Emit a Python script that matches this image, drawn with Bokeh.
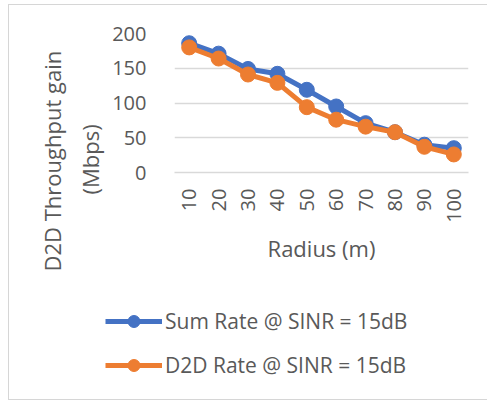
from math import pi
from bokeh.plotting import figure
from bokeh.models import Legend, LegendItem, FactorRange, Title
from bokeh.layouts import column, row
from bokeh.embed import file_html
from bokeh.resources import INLINE

radius = ["10", "20", "30", "40", "50", "60", "70", "80", "90", "100"]
sum_rate = [186, 171, 149, 142, 119, 95, 71, 58, 40, 35]
d2d_rate = [180, 164, 141, 129, 94, 76, 66, 58, 37, 26]
y_ticks = [0, 50, 100, 150, 200]
series_names = ["Sum Rate @ SINR = 15dB", "D2D Rate @ SINR = 15dB"]

FONT = "Open Sans"
GREY = "#595959"
BLUE = "#4472C4"
ORANGE = "#ED7D31"

p = figure(width=478, height=285, output_backend="svg", toolbar_location=None,
           x_range=FactorRange(*radius, range_padding=0), y_range=(0, 200),
           min_border_left=165, min_border_right=19, min_border_top=28, min_border_bottom=118)
p.outline_line_color = None
p.background_fill_color = "white"
p.border_fill_color = "white"

p.xgrid.grid_line_color = None
p.ygrid.grid_line_color = "#D9D9D9"
p.ygrid.grid_line_width = 1.3
p.yaxis.ticker = y_ticks

for ax in (p.xaxis, p.yaxis):
    ax.axis_line_color = None
    ax.major_tick_line_color = None
    ax.minor_tick_line_color = None
    ax.major_label_text_font = FONT
    ax.major_label_text_color = GREY
    ax.major_label_text_font_size = "20px"

p.xaxis.axis_line_color = "#D9D9D9"
p.xaxis.axis_line_width = 1.3
p.yaxis.major_label_standoff = 22
p.xaxis.major_label_orientation = pi / 2
p.xaxis.major_label_standoff = 10
p.xaxis.axis_label = "Radius (m)"
p.xaxis.axis_label_text_font = FONT
p.xaxis.axis_label_text_font_style = "normal"
p.xaxis.axis_label_text_color = GREY
p.xaxis.axis_label_text_font_size = "22px"
p.xaxis.axis_label_standoff = 7

p.line(radius, sum_rate, line_color=BLUE, line_width=5)
p.scatter(radius, sum_rate, size=15, fill_color=BLUE, line_color=BLUE)
p.line(radius, d2d_rate, line_color=ORANGE, line_width=5)
p.scatter(radius, d2d_rate, size=15, fill_color=ORANGE, line_color=ORANGE)

for txt, so, off in (("(Mbps)", 9, -22), ("D2D Throughput gain", 4, -99)):
    p.add_layout(Title(text=txt, align="left", offset=off, standoff=so,
                       text_font=FONT, text_font_size="22px", text_color=GREY,
                       text_font_style="normal"), "left")

# legend panel: series drawn out of view, only their legend glyphs show
p2 = figure(width=478, height=109, output_backend="svg", toolbar_location=None,
            x_range=FactorRange(*radius), y_range=(1000, 2000), min_border=0,
            x_axis_location=None, y_axis_location=None)
p2.grid.visible = False
p2.outline_line_color = None
p2.background_fill_color = "white"
p2.border_fill_color = "white"

items = []
for name, col, vals in zip(series_names, (BLUE, ORANGE), (sum_rate, d2d_rate)):
    lr = p2.line(x=radius, y=vals, line_color=col, line_width=5)
    sr = p2.scatter(x=radius, y=vals, size=15, fill_color=col, line_color=col)
    items.append(LegendItem(label=name, renderers=[lr, sr]))

legend = Legend(items=items, location=(96, 19), orientation="vertical",
                glyph_width=57, glyph_height=30, spacing=14, padding=0, margin=0,
                label_standoff=3, label_text_font=FONT, label_text_font_size="21px",
                label_text_color=GREY, border_line_color=None,
                background_fill_alpha=0)
p2.add_layout(legend, "center")

layout = column(p, row(p2), spacing=0,
                styles={"margin-left": "8px", "margin-top": "4px",
                        "border-left": "1px solid #D6D6D6",
                        "border-top": "1px solid #D6D6D6",
                        "border-bottom": "1px solid #D6D6D6"})
open("out.html", "w").write(file_html(layout, INLINE))
